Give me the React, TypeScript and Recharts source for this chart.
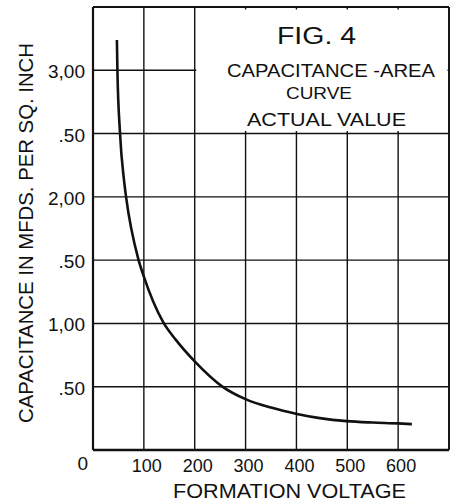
import React from 'react';
import { LineChart, Line, XAxis, YAxis, CartesianGrid, ReferenceArea, ReferenceLine } from 'recharts';

// formation voltage (x) and capacitance in mfds per sq. inch (y)
const voltage = [47, 48, 53, 61, 65, 89, 100, 138, 163, 200, 253, 301, 350, 401, 446, 499, 550, 600, 627];
const capacitance = [3.24, 3.0, 2.51, 2.13, 2.0, 1.51, 1.37, 1.01, 0.87, 0.7, 0.505, 0.4, 0.335, 0.285, 0.252, 0.228, 0.217, 0.21, 0.204];

const xTicks = [0, 100, 200, 300, 400, 500, 600, 700];
const yTicks = [0, 0.5, 1, 1.5, 2, 2.5, 3, 3.5];
const yTickLabels = ['0', '.50', '1,00', '.50', '2,00', '.50', '3,00', ''];
const xTickLabels = ['', '100', '200', '300', '400', '500', '600', ''];

const titleLines = ['FIG. 4', 'CAPACITANCE -AREA', 'CURVE', 'ACTUAL VALUE'];
const yTitle = 'CAPACITANCE IN MFDS. PER SQ. INCH';
const xTitle = 'FORMATION  VOLTAGE';

const FONT = '"Liberation Sans", Arial, sans-serif';
const INK = '#111';

const data = voltage.map((v, i) => ({ v, c: capacitance[i] }));

const YTick = (props: any) => {
  const { x, y, payload, index } = props;
  const label = yTickLabels[index] ?? '';
  if (!label) return null;
  const isZero = payload.value === 0;
  return (
    <text
      x={isZero ? x + 3 : x}
      y={isZero ? y + 20 : y + 8}
      textAnchor="end"
      fontFamily={FONT}
      fontSize={19}
      fill={INK}
    >
      {label}
    </text>
  );
};

const XTick = (props: any) => {
  const { x, y, index } = props;
  const label = xTickLabels[index] ?? '';
  if (!label) return null;
  return (
    <text x={x + 3} y={y + 14} textAnchor="middle" fontFamily={FONT} fontSize={18} fill={INK}>
      {label}
    </text>
  );
};

export default function App() {
  return (
    <div style={{ position: 'absolute', left: 0, top: 0, width: 458, height: 502, background: '#fff' }}>
      <LineChart
        width={458}
        height={502}
        data={data}
        margin={{ top: 7, right: 9, bottom: 12, left: 13 }}
      >
        <CartesianGrid stroke={INK} strokeWidth={1.4} horizontalValues={yTicks} verticalValues={xTicks} />
        <XAxis
          type="number"
          dataKey="v"
          domain={[0, 700]}
          ticks={xTicks}
          tick={<XTick />}
          tickLine={false}
          axisLine={{ stroke: INK, strokeWidth: 2.5 }}
          height={40}
          allowDataOverflow
        />
        <YAxis
          type="number"
          domain={[0, 3.5]}
          ticks={yTicks}
          tick={<YTick />}
          tickLine={false}
          axisLine={{ stroke: INK, strokeWidth: 2.2 }}
          width={80}
          interval={0}
          allowDataOverflow
        />
        <ReferenceArea x1={203} x2={697} y1={2.52} y2={3.48} fill="#fff" fillOpacity={1} stroke="none" />
        <ReferenceLine y={3.5} stroke={INK} strokeWidth={2.2} />
        <ReferenceLine x={700} stroke={INK} strokeWidth={1.8} />
        <Line
          type="monotone"
          dataKey="c"
          stroke={INK}
          strokeWidth={2.6}
          dot={false}
          isAnimationActive={false}
        />
      </LineChart>
      <svg
        width={458}
        height={502}
        style={{ position: 'absolute', left: 0, top: 0, pointerEvents: 'none' }}
        fontFamily={FONT}
        fill={INK}
      >
        <text x={277} y={44} fontSize={23} textLength={79} lengthAdjust="spacingAndGlyphs">{titleLines[0]}</text>
        <text x={227} y={77} fontSize={19} textLength={208} lengthAdjust="spacingAndGlyphs">{titleLines[1]}</text>
        <text x={286} y={99} fontSize={17} textLength={66} lengthAdjust="spacingAndGlyphs">{titleLines[2]}</text>
        <text x={247} y={126} fontSize={19} textLength={159} lengthAdjust="spacingAndGlyphs">{titleLines[3]}</text>
        <text
          transform="translate(33,423) rotate(-90)"
          fontSize={21}
          textLength={380}
          lengthAdjust="spacingAndGlyphs"
        >
          {yTitle}
        </text>
        <text x={173} y={498} fontSize={20} textLength={233} lengthAdjust="spacingAndGlyphs">{xTitle}</text>
      </svg>
    </div>
  );
}
